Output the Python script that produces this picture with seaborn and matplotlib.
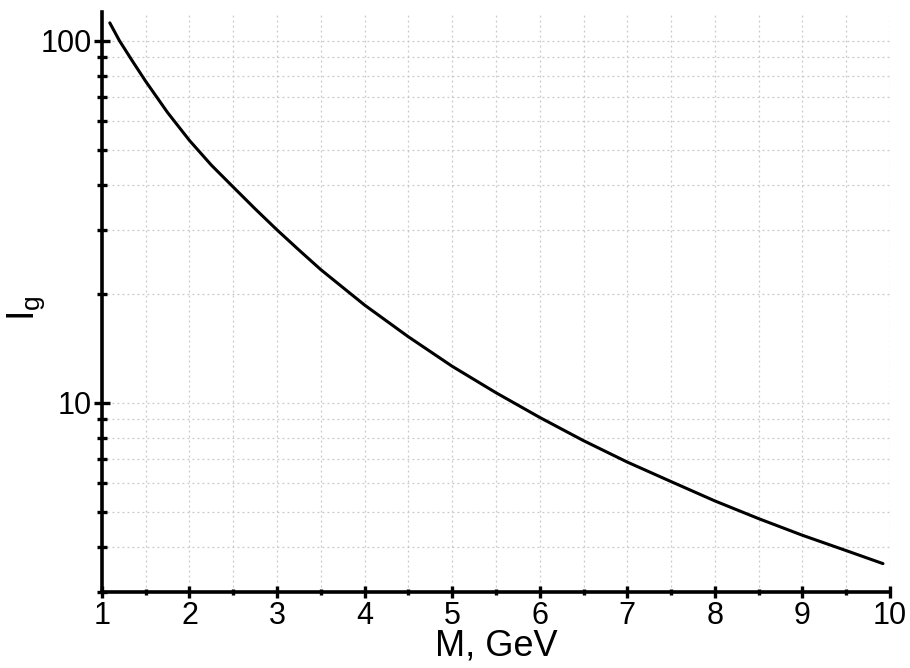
import pandas as pd
import seaborn as sns
import matplotlib.pyplot as plt
from matplotlib.ticker import MultipleLocator, LogLocator, NullFormatter, FixedLocator, FixedFormatter

# values
mass = [1.09, 1.2, 1.35, 1.5, 1.75, 2.0, 2.25, 2.5, 2.75, 3.0, 3.25, 3.5, 4.0, 4.5, 5.0,
        5.5, 6.0, 6.5, 7.0, 7.5, 8.0, 8.5, 9.0, 9.5, 9.92]
ig = [112, 100, 87.7, 77.2, 63.3, 53.0, 45.3, 39.4, 34.3, 30.0, 26.4, 23.3, 18.6, 15.2, 12.6,
      10.65, 9.1, 7.85, 6.85, 6.05, 5.35, 4.78, 4.3, 3.9, 3.59]

x_ticks = list(range(1, 11))
y_ticks = [10, 100]
y_tick_labels = ['10', '100']

df = pd.DataFrame({'M': mass, 'Ig': ig})

sns.set_style('ticks')
plt.rcParams['font.family'] = ['Liberation Sans', 'DejaVu Sans']
plt.rcParams['mathtext.fontset'] = 'custom'
plt.rcParams['mathtext.rm'] = 'Liberation Sans'
plt.rcParams['text.color'] = 'black'
plt.rcParams['axes.labelcolor'] = 'black'

fig = plt.figure(figsize=(9.1, 6.68), dpi=100)
ax = fig.add_axes([0.112, 0.114, 0.866, 0.868])

sns.lineplot(data=df, x='M', y='Ig', color='black', linewidth=2.2, ax=ax)

ax.set_yscale('log')
ax.set_xlim(1, 10)
ax.set_ylim(3, 120)

ax.xaxis.set_major_locator(FixedLocator(x_ticks))
ax.xaxis.set_minor_locator(MultipleLocator(0.5))
ax.yaxis.set_major_locator(FixedLocator(y_ticks))
ax.yaxis.set_major_formatter(FixedFormatter(y_tick_labels))
ax.yaxis.set_minor_locator(LogLocator(base=10, subs=range(2, 10)))
ax.yaxis.set_minor_formatter(NullFormatter())

ax.grid(True, which='both', color='#c8c8c8', linestyle=(0, (1.5, 2.5)), linewidth=0.9)
ax.set_axisbelow(True)

for side in ['top', 'right']:
    ax.spines[side].set_visible(False)
for side in ['left', 'bottom']:
    ax.spines[side].set_linewidth(2.6)
    ax.spines[side].set_color('black')

ax.tick_params(axis='y', which='major', direction='inout', length=12, width=2.4,
               labelsize=22, pad=1, colors='black', left=True)
ax.tick_params(axis='y', which='minor', direction='inout', length=7.5, width=2.4,
               colors='black', left=True)
ax.tick_params(axis='x', which='major', direction='inout', length=9, width=2.4,
               labelsize=22, pad=2, colors='black', bottom=True)
ax.tick_params(axis='x', which='minor', direction='inout', length=5, width=2.4,
               colors='black', bottom=True)

for t in ax.xaxis.get_major_ticks() + ax.xaxis.get_minor_ticks() + ax.yaxis.get_major_ticks() + ax.yaxis.get_minor_ticks():
    t.tick1line.set_solid_capstyle('round')

ax.set_xlabel('M, GeV', fontsize=26, labelpad=-2)
ax.set_ylabel(r'$\mathregular{I_g}$', fontsize=27)
ax.yaxis.set_label_coords(-0.07, 0.49)

plt.savefig('out.png', dpi=100)
plt.close()
